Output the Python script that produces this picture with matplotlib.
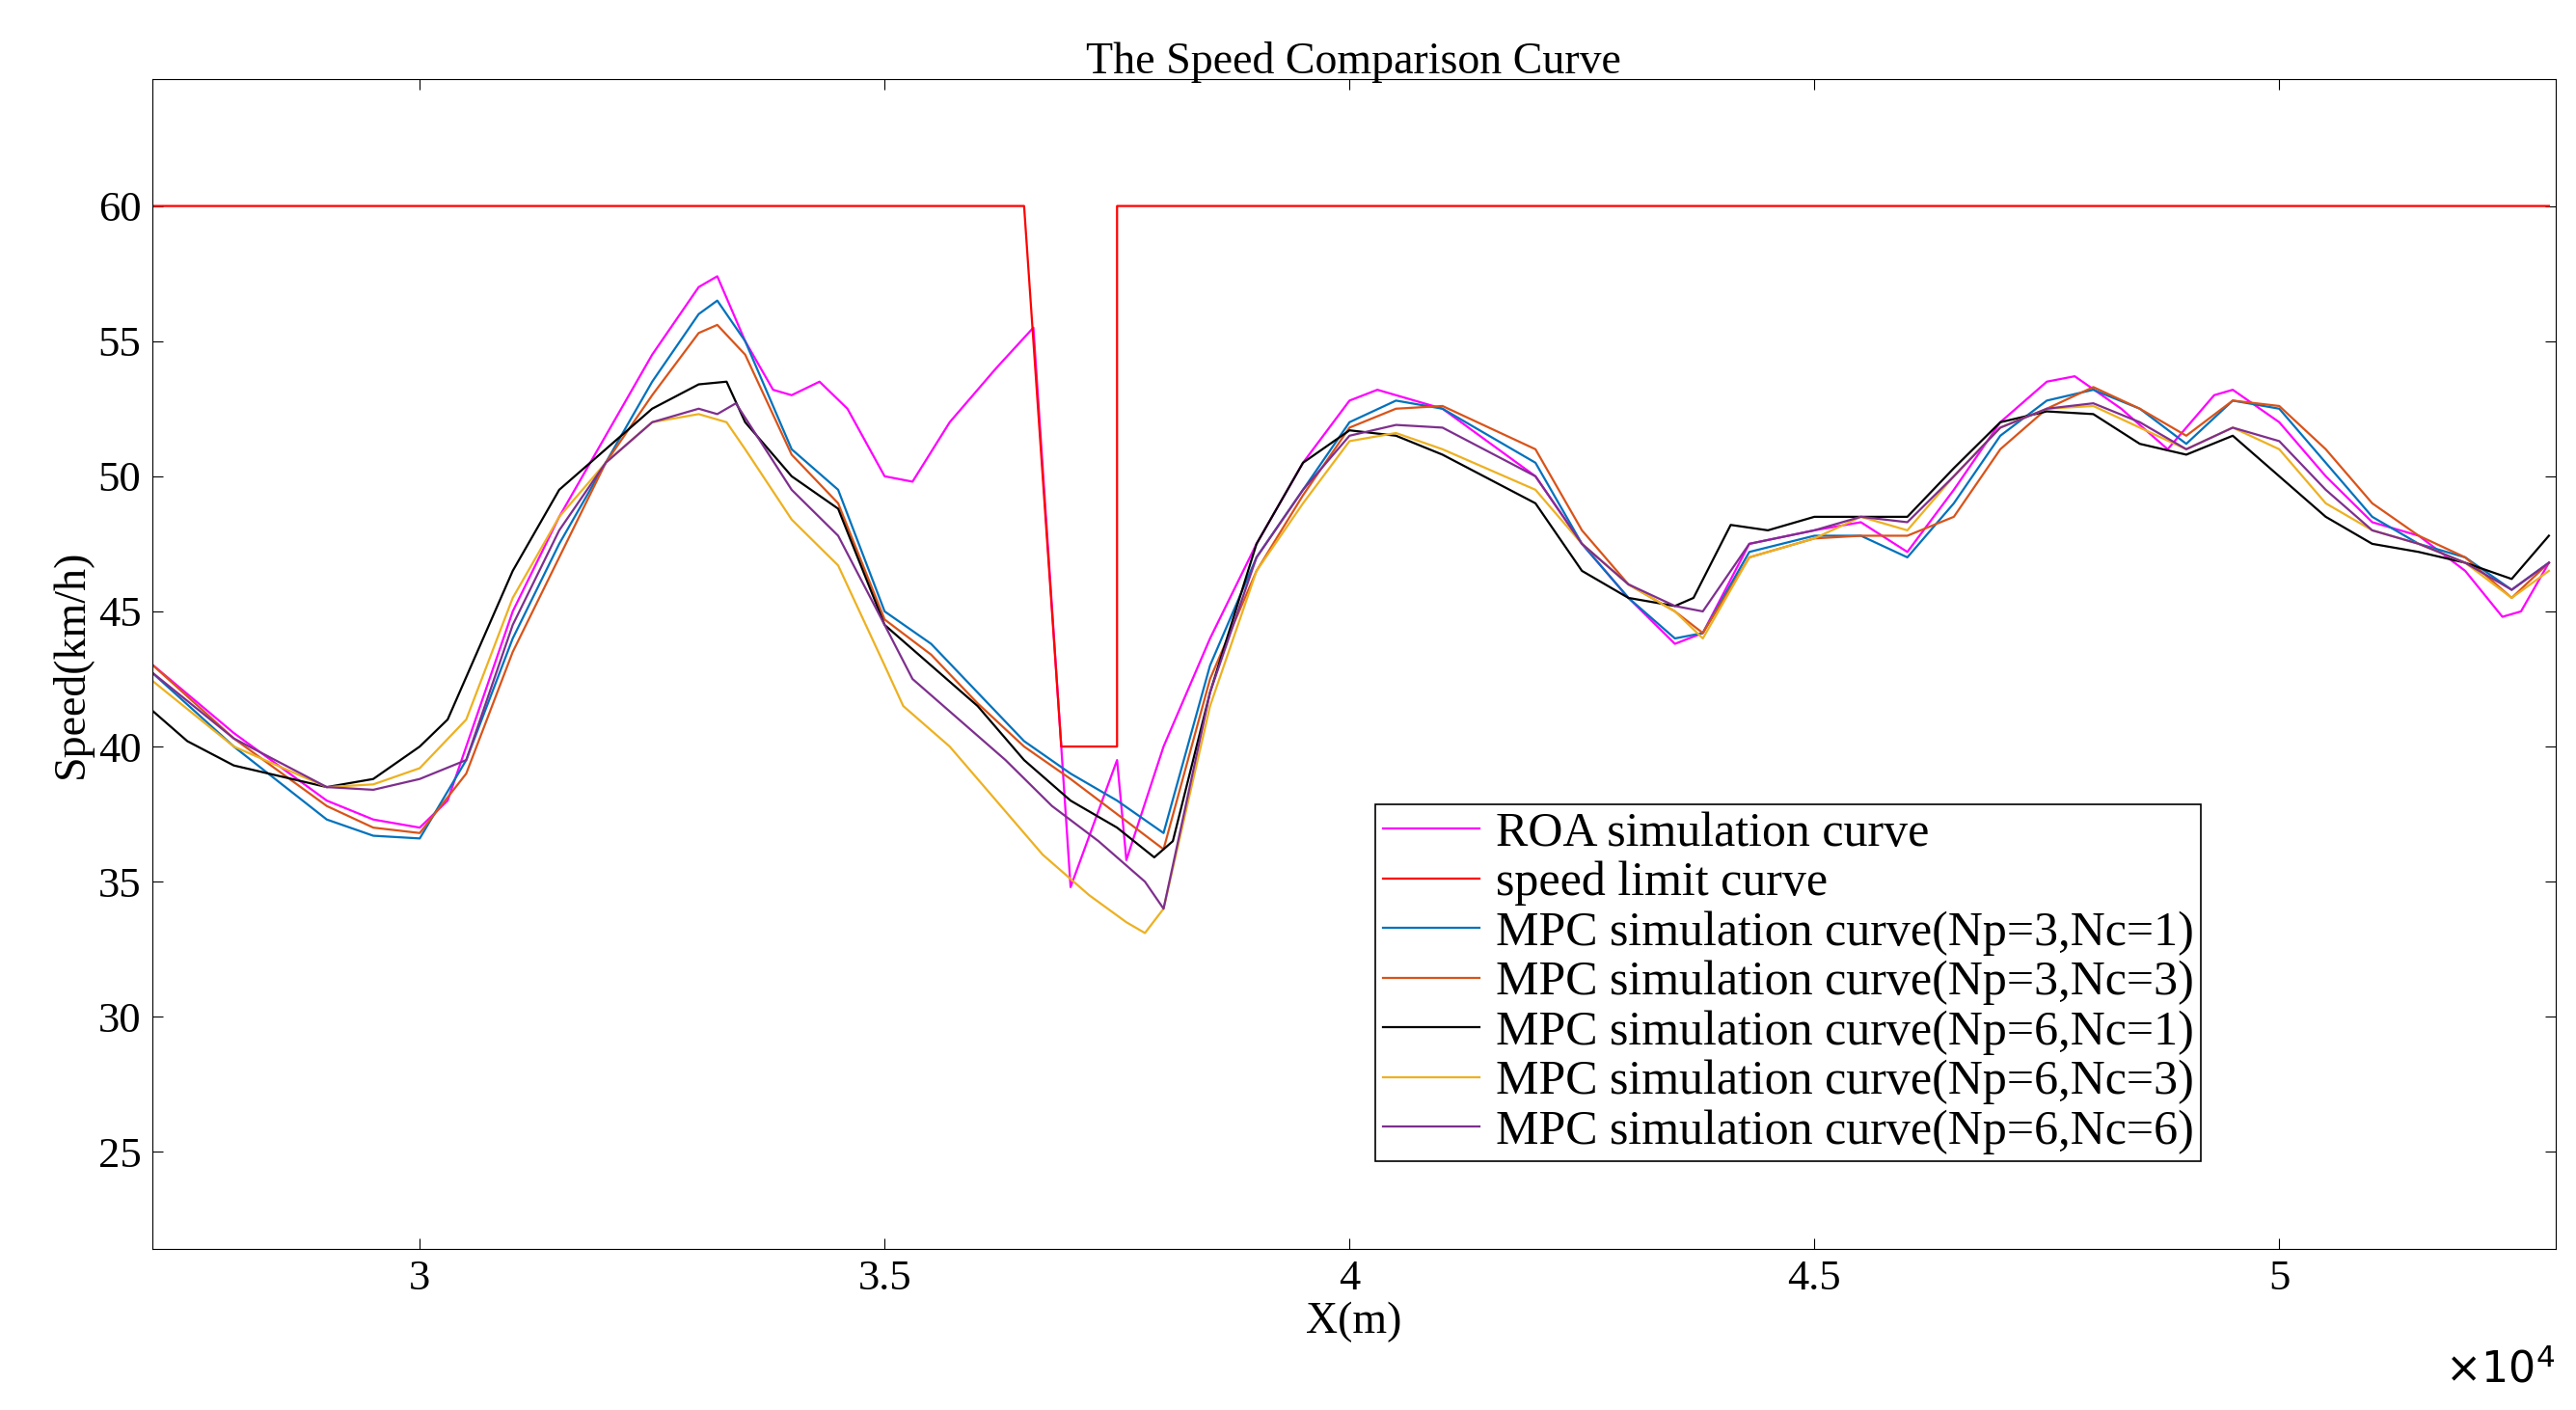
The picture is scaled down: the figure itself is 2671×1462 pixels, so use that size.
import numpy as np
import matplotlib
matplotlib.use("Agg")
import matplotlib.pyplot as plt
from matplotlib.ticker import FuncFormatter

plt.rcParams["font.family"] = "Liberation Serif"

# x in km (plotted in metres)
roa_x = [27.1, 28, 29, 29.5, 30, 30.3, 31, 31.5, 32, 32.5, 33, 33.2, 33.5, 33.8, 34, 34.3, 34.6, 35, 35.3, 35.7, 36.2, 36.6, 37.0, 37.5, 37.6, 38, 38.5, 39, 39.5, 40, 40.3, 41, 42, 42.5, 43, 43.5, 43.8, 44.3, 45, 45.5, 46, 46.5, 47, 47.5, 47.8, 48.3, 48.8, 49.3, 49.5, 50, 50.5, 51, 51.5, 52, 52.4, 52.6, 52.9]
roa_y = [43.1, 40.5, 38, 37.3, 37, 38, 45, 48.5, 51.5, 54.5, 57, 57.4, 55, 53.2, 53, 53.5, 52.5, 50, 49.8, 52, 54, 55.5, 34.8, 39.5, 35.8, 40, 44, 47.5, 50.5, 52.8, 53.2, 52.5, 50, 47.5, 45.5, 43.8, 44.2, 47.5, 48, 48.3, 47.2, 49.5, 52, 53.5, 53.7, 52.5, 51, 53, 53.2, 52, 50, 48.3, 47.8, 46.5, 44.8, 45, 46.8]

lim_x = [27.1, 36.5, 36.9, 37.5, 37.5, 52.9]
lim_y = [60, 60, 40, 40, 60, 60]

mpc_x = [27.1, 28, 29, 29.5, 30, 30.5, 31, 31.5, 32, 32.5, 33, 33.2, 33.5, 34, 34.5, 35, 35.5, 36, 36.5, 37, 37.5, 38, 38.5, 39, 39.5, 40, 40.5, 41, 42, 42.5, 43, 43.5, 43.8, 44.3, 45, 45.5, 46, 46.5, 47, 47.5, 48, 48.5, 49, 49.5, 50, 50.5, 51, 51.5, 52, 52.5, 52.9]
mpc31_y = [42.8, 40, 37.3, 36.7, 36.6, 39.5, 44, 47.5, 50.5, 53.5, 56, 56.5, 55, 51, 49.5, 45, 43.8, 42, 40.2, 39, 38, 36.8, 43, 47, 49.5, 52, 52.8, 52.5, 50.5, 47.5, 45.5, 44, 44.2, 47.2, 47.8, 47.8, 47, 49, 51.5, 52.8, 53.2, 52.5, 51.2, 52.8, 52.5, 50.5, 48.5, 47.5, 47, 45.8, 46.8]
mpc33_y = [43.1, 40.3, 37.8, 37, 36.8, 39, 43.5, 47, 50.5, 53, 55.3, 55.6, 54.5, 50.8, 49, 44.7, 43.4, 41.6, 40, 38.8, 37.5, 36.2, 42.5, 46.5, 49.3, 51.8, 52.5, 52.6, 51, 48, 46, 45, 44.2, 47, 47.7, 47.8, 47.8, 48.5, 51, 52.5, 53.3, 52.5, 51.5, 52.8, 52.6, 51, 49, 47.8, 47, 45.5, 46.8]

mpc61_x = [27.1, 27.5, 28, 29, 29.5, 30, 30.3, 31, 31.5, 32, 32.5, 33, 33.3, 33.5, 34, 34.5, 35, 35.5, 36, 36.5, 37, 37.5, 37.9, 38.1, 38.5, 39, 39.5, 40, 40.5, 41, 42, 42.5, 43, 43.5, 43.7, 44.1, 44.5, 45, 45.5, 46, 46.5, 47, 47.5, 48, 48.5, 49, 49.5, 50, 50.5, 51, 51.5, 52, 52.5, 52.9]
mpc61_y = [41.4, 40.2, 39.3, 38.5, 38.8, 40, 41, 46.5, 49.5, 51, 52.5, 53.4, 53.5, 52, 50, 48.8, 44.5, 43, 41.5, 39.5, 38, 37, 35.9, 36.5, 42, 47.5, 50.5, 51.7, 51.5, 50.8, 49, 46.5, 45.5, 45.2, 45.5, 48.2, 48, 48.5, 48.5, 48.5, 50.3, 52, 52.4, 52.3, 51.2, 50.8, 51.5, 50, 48.5, 47.5, 47.2, 46.8, 46.2, 47.8]

mpc63_x = [27.1, 28, 29, 29.5, 30, 30.5, 31, 31.5, 32, 32.5, 33, 33.3, 33.5, 34, 34.5, 35, 35.2, 35.7, 36.2, 36.7, 37.2, 37.6, 37.8, 38, 38.5, 39, 39.5, 40, 40.5, 41, 42, 42.5, 43, 43.5, 43.8, 44.3, 45, 45.5, 46, 46.5, 47, 47.5, 48, 48.5, 49, 49.5, 50, 50.5, 51, 51.5, 52, 52.5, 52.9]
mpc63_y = [42.5, 40, 38.5, 38.6, 39.2, 41, 45.5, 48.5, 50.5, 52, 52.3, 52, 51, 48.4, 46.7, 43, 41.5, 40, 38, 36, 34.5, 33.5, 33.1, 34, 41.5, 46.5, 49, 51.3, 51.6, 51, 49.5, 47.5, 46, 45, 44, 47, 47.7, 48.5, 48, 50, 51.8, 52.5, 52.6, 51.8, 51, 51.8, 51, 49, 48, 47.5, 46.8, 45.5, 46.5]

mpc66_x = [27.1, 28, 29, 29.5, 30, 30.5, 31, 31.5, 32, 32.5, 33, 33.2, 33.4, 34, 34.5, 35, 35.3, 35.8, 36.3, 36.8, 37.3, 37.8, 38, 38.5, 39, 39.5, 40, 40.5, 41, 42, 42.5, 43, 43.5, 43.8, 44.3, 45, 45.5, 46, 46.5, 47, 47.5, 48, 48.5, 49, 49.5, 50, 50.5, 51, 51.5, 52, 52.5, 52.9]
mpc66_y = [42.8, 40.3, 38.5, 38.4, 38.8, 39.5, 44.5, 48, 50.5, 52, 52.5, 52.3, 52.7, 49.5, 47.8, 44.5, 42.5, 41, 39.5, 37.8, 36.5, 35, 34, 42, 47, 49.5, 51.5, 51.9, 51.8, 50, 47.5, 46, 45.2, 45, 47.5, 48, 48.5, 48.3, 50, 51.8, 52.5, 52.7, 52, 51, 51.8, 51.3, 49.5, 48, 47.5, 46.8, 45.8, 46.8]

km = lambda v: np.array(v) * 1000

fig = plt.figure(figsize=(26.71, 14.62), dpi=100)
ax = fig.add_axes([0.059, 0.114, 0.933, 0.83])

ax.plot(km(roa_x), roa_y, color="#FF00FF", lw=1.6, label="ROA simulation curve")
ax.plot(km(lim_x), lim_y, color="#FF0000", lw=1.6, label="speed limit curve")
ax.plot(km(mpc_x), mpc31_y, color="#0072BD", lw=1.6, label="MPC simulation curve(Np=3,Nc=1)")
ax.plot(km(mpc_x), mpc33_y, color="#D95319", lw=1.6, label="MPC simulation curve(Np=3,Nc=3)")
ax.plot(km(mpc61_x), mpc61_y, color="black", lw=1.6, label="MPC simulation curve(Np=6,Nc=1)")
ax.plot(km(mpc63_x), mpc63_y, color="#EDB120", lw=1.6, label="MPC simulation curve(Np=6,Nc=3)")
ax.plot(km(mpc66_x), mpc66_y, color="#7E2F8E", lw=1.6, label="MPC simulation curve(Np=6,Nc=6)")

ax.set_xlim(27120, 52970)
ax.set_ylim(21.4, 64.7)
ax.set_xticks([30000, 35000, 40000, 45000, 50000])
ax.set_yticks([25, 30, 35, 40, 45, 50, 55, 60])
ax.xaxis.set_major_formatter(FuncFormatter(lambda v, p: f"{v/1e4:g}"))
ax.text(1.0, -0.085, r"$\times10^4$", transform=ax.transAxes, ha="right", va="top", fontsize=32)
ax.tick_params(labelsize=32, direction="in", length=8, top=True, right=True, pad=8)
ax.set_xlabel("X(m)", fontsize=33, labelpad=2)
ax.set_ylabel("Speed(km/h)", fontsize=33, labelpad=4)
ax.set_title("The Speed Comparison Curve", fontsize=33, pad=4)

leg = ax.legend(loc="lower left", bbox_to_anchor=(0.509, 0.075), fontsize=36,
                fancybox=False, edgecolor="black", framealpha=1,
                handlelength=2.0, borderpad=0.15, labelspacing=0.1, handletextpad=0.35,
                borderaxespad=0)
leg.get_frame().set_linewidth(1.2)

fig.savefig("out.png", dpi=100)
